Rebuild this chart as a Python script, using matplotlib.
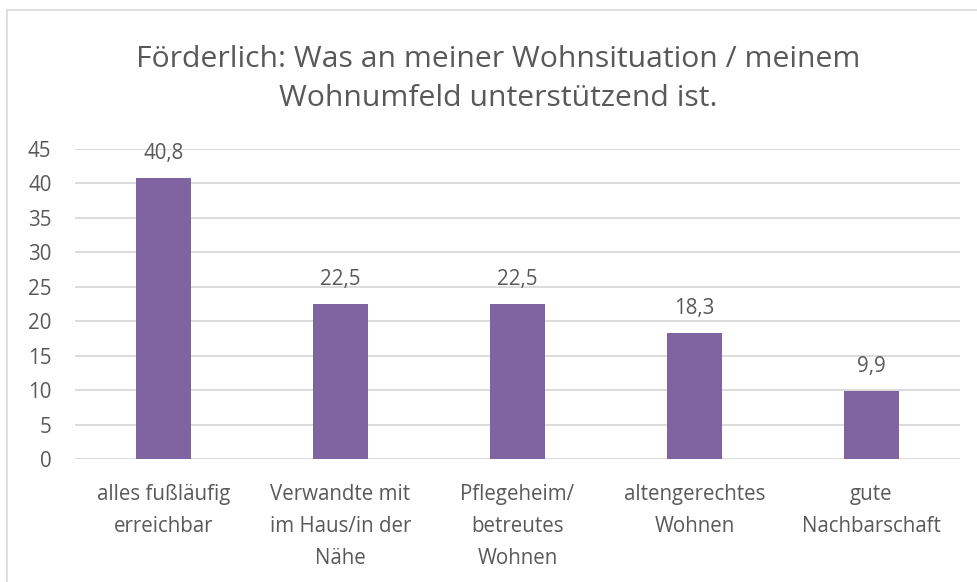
import matplotlib
matplotlib.use("Agg")
import matplotlib.pyplot as plt
from matplotlib.patches import Rectangle

categories = ["alles fußläufig\nerreichbar", "Verwandte mit\nim Haus/in der\nNähe",
              "Pflegeheim/\nbetreutes\nWohnen", "altengerechtes\nWohnen", "gute\nNachbarschaft"]
values = [40.8, 22.5, 22.5, 18.3, 9.9]
value_labels = ["40,8", "22,5", "22,5", "18,3", "9,9"]
yticks = [0, 5, 10, 15, 20, 25, 30, 35, 40, 45]

plt.rcParams['font.family'] = ['Open Sans', 'DejaVu Sans']
text_color = '#595959'
bar_color = '#8064A2'
grid_color = '#D9D9D9'
fs = 14.8

fig = plt.figure(figsize=(9.77, 5.82), dpi=100)
fig.patches.append(Rectangle((7 / 977, -0.1), 1.2, (572 / 582) + 0.1, transform=fig.transFigure,
                             fill=False, edgecolor='#D9D9D9', linewidth=1.2))

ax = fig.add_axes([75 / 977, 1 - 459 / 582, 885 / 977, 310 / 582])
x = range(len(values))
ax.bar(x, values, width=0.31, color=bar_color, zorder=3)
for i, (v, lab) in enumerate(zip(values, value_labels)):
    ax.annotate(lab, (i, v), xytext=(0, 10), textcoords='offset points',
                ha='center', va='bottom', fontsize=fs, color=text_color)

ax.set_xlim(-0.5, len(values) - 0.5)
ax.set_ylim(0, 45)
ax.set_yticks(yticks)
ax.set_yticklabels([str(t) for t in yticks], fontsize=fs, color=text_color)
ax.set_xticks(list(x))
ax.set_xticklabels(categories, fontsize=fs, color=text_color, va='top', linespacing=1.68)
ax.tick_params(axis='both', length=0)
ax.tick_params(axis='x', pad=18)
ax.tick_params(axis='y', pad=17)
ax.grid(axis='y', color=grid_color, linewidth=1.3, zorder=0)
for s in ax.spines.values():
    s.set_visible(False)

fig.text(498 / 977, 1 - 79 / 582, "Förderlich: Was an meiner Wohnsituation / meinem\nWohnumfeld unterstützend ist.",
         ha='center', va='center', fontsize=21.7, color=text_color, linespacing=1.45)

fig.savefig("out.png", dpi=100)
